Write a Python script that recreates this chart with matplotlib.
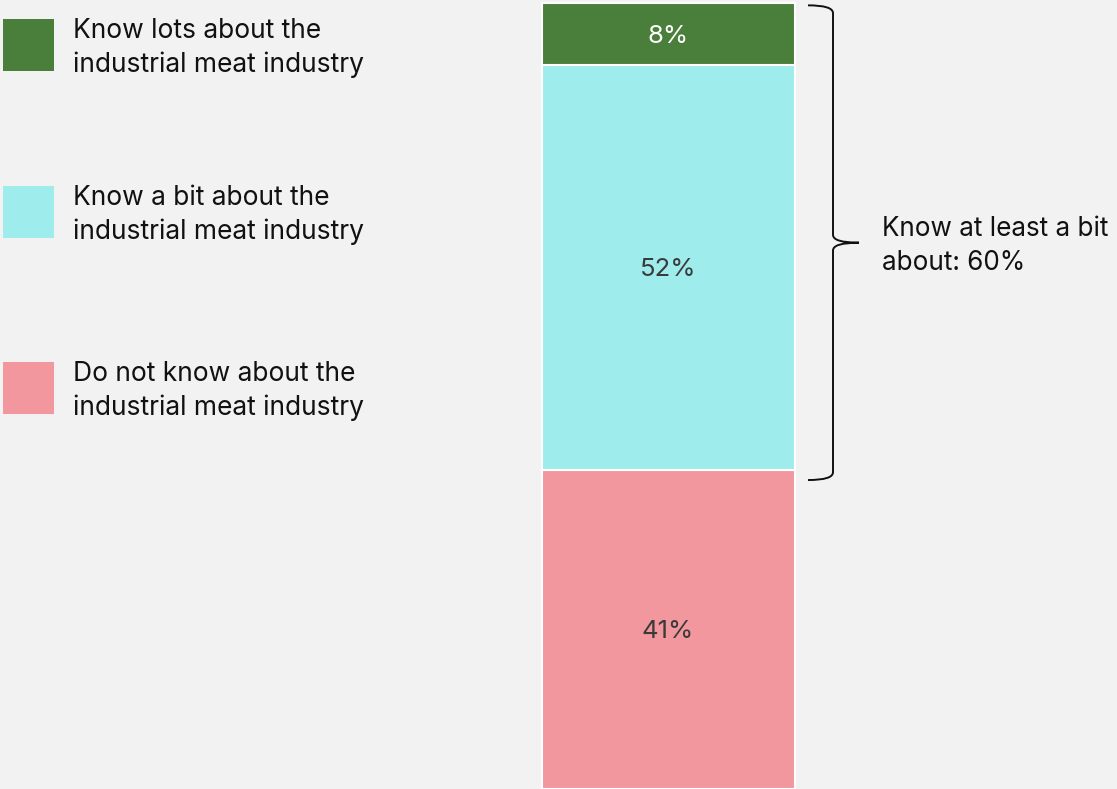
import matplotlib
matplotlib.use("Agg")
import matplotlib.pyplot as plt
from matplotlib.patches import Rectangle, PathPatch
from matplotlib.path import Path

# Survey shares (percent), stacked bottom to top
categories = [
    "Do not know about the\nindustrial meat industry",
    "Know a bit about the\nindustrial meat industry",
    "Know lots about the\nindustrial meat industry",
]
values = [41, 52, 8]
colors = ["#f2979e", "#9eeceb", "#4a7f3b"]
label_colors = ["#3a3a3a", "#3a3a3a", "#ffffff"]
bracket_text = "Know at least a bit\nabout: {}%"

W, H = 1117, 789
BG = "#f2f2f2"
plt.rcParams["font.family"] = ["Inter", "DejaVu Sans"]

fig = plt.figure(figsize=(W / 100, H / 100), dpi=100, facecolor=BG)
ax = fig.add_axes([0, 0, 1, 1])
ax.set_facecolor(BG)
total = sum(values)
# y axis in percent; top of stack sits just below the figure edge
ax.set_ylim(0, total * H / (H - 3))
ax.set_xlim(0, W)
ax.axis("off")

bar_x, bar_w = 668, 253
bottom = 0
for v, c, lc in zip(values, colors, label_colors):
    ax.bar(bar_x, v, bottom=bottom, width=bar_w, color=c,
           edgecolor="white", linewidth=1.5)
    ax.text(bar_x, bottom + v / 2 - 0.3, f"{v}%", ha="center", va="center",
            fontsize=18.5, color=lc)
    bottom += v

# Curly bracket around the two "know" segments
lo = values[0] - 1.3
hi = total - 0.3
mid = (lo + hi) / 2
x0, x1, xt = 808, 833, 859
d = 1.0
verts = [
    (x0, hi), (x1, hi), (x1, hi - d),
    (x1, mid + d), (x1, mid), (xt, mid),
    (x1, mid), (x1, mid - d),
    (x1, lo + d), (x1, lo), (x0, lo),
]
codes = [
    Path.MOVETO, Path.CURVE3, Path.CURVE3,
    Path.LINETO, Path.CURVE3, Path.CURVE3,
    Path.CURVE3, Path.CURVE3,
    Path.LINETO, Path.CURVE3, Path.CURVE3,
]
ax.add_patch(PathPatch(Path(verts, codes), facecolor="none",
                       edgecolor="#111111", linewidth=1.4))
ax.text(882, mid - 0.45, bracket_text.format(values[1] + values[2]),
        ha="left", va="center", fontsize=18.8, color="#111111",
        linespacing=1.37)

# Legend, top to bottom
def fx(px):
    return px / W

def fy(py):
    return 1 - py / H

legend_rows = [45, 212, 388]
for row_y, cat, c in zip(legend_rows, categories[::-1], colors[::-1]):
    fig.patches.append(Rectangle((fx(3), fy(row_y + 26)), 51 / W, 52 / H,
                                 transform=fig.transFigure, facecolor=c,
                                 edgecolor="none"))
    fig.text(fx(73), fy(row_y + 3), cat, ha="left", va="center",
             fontsize=19, color="#111111", linespacing=1.37)

fig.savefig("out.png", dpi=100, facecolor=BG)
